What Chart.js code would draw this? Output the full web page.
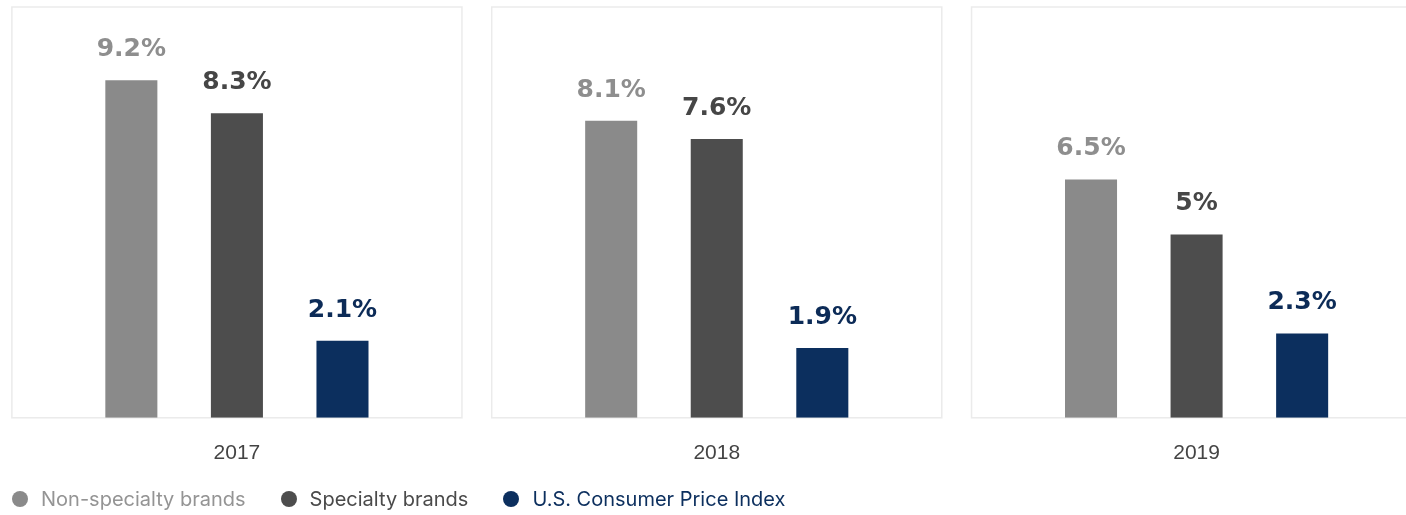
<!DOCTYPE html>
<html>
<head>
<meta charset="utf-8">
<script src="https://cdn.jsdelivr.net/npm/chart.js@4/dist/chart.umd.min.js"></script>
<style>
  html, body { margin: 0; padding: 0; background: #fff; overflow: hidden; }
  body { width: 1406px; height: 515px; position: relative; }
  #wrap { position: absolute; left: -10px; top: 0; width: 1460px; height: 515px; }
  #legend { position: absolute; left: 12px; top: 487px; display: flex; align-items: center;
    font-family: Inter, "Noto Sans", sans-serif; font-size: 20px; line-height: 24px; }
  #legend .item { display: flex; align-items: center; margin-right: 35px; }
  #legend .dot { width: 16px; height: 16px; border-radius: 50%; margin-right: 13px; }
</style>
</head>
<body>
<div id="wrap"><canvas id="myChart"></canvas></div>
<div id="legend"></div>
<script>
// dati
const anni = ["2017", "2018", "2019"];
const nonSpecialty = [9.2, 8.1, 6.5];
const specialty = [8.3, 7.6, 5];
const cpi = [2.1, 1.9, 2.3];

const nomiSerie = ["Non-specialty brands", "Specialty brands", "U.S. Consumer Price Index"];
const coloriBarre = ["#8a8a8a", "#4d4d4d", "#0c2f5e"];
const coloriTesto = ["#8e8e8e", "#464646", "#0c2b57"];
const coloriLegenda = ["#949494", "#4a4a4a", "#0c2f5e"];

// riquadro grigio attorno a ogni anno
const riquadri = {
  id: "riquadri",
  beforeDatasetsDraw(chart) {
    const { ctx, chartArea, scales } = chart;
    const x = scales.x;
    const larghezza = (x.width / anni.length) * 0.938;
    ctx.save();
    ctx.strokeStyle = "#ebebeb";
    ctx.lineWidth = 1.5;
    anni.forEach((a, i) => {
      const cx = x.getPixelForValue(i);
      ctx.strokeRect(cx - larghezza / 2, chartArea.top, larghezza, chartArea.bottom - chartArea.top);
    });
    ctx.restore();
  },
};

// etichette dei valori sopra le barre
const etichette = {
  id: "etichette",
  afterDatasetsDraw(chart) {
    const { ctx } = chart;
    ctx.save();
    ctx.font = "bold 25px 'DejaVu Sans'";
    ctx.textAlign = "center";
    ctx.textBaseline = "alphabetic";
    chart.data.datasets.forEach((ds, d) => {
      chart.getDatasetMeta(d).data.forEach((bar, i) => {
        ctx.fillStyle = coloriTesto[d];
        ctx.fillText(`${ds.data[i]}%`, bar.x, bar.y - 24);
      });
    });
    ctx.restore();
  },
};

const data = {
  labels: anni,
  datasets: [nonSpecialty, specialty, cpi].map((valori, i) => ({
    label: nomiSerie[i],
    data: valori,
    backgroundColor: coloriBarre[i],
    borderWidth: 0,
    categoryPercentage: 0.66,
    barPercentage: 0.493,
  })),
};

const config = {
  type: "bar",
  data: data,
  options: {
    responsive: true,
    maintainAspectRatio: false,
    animation: false,
    layout: { padding: { left: 7, right: 13.5, top: 7, bottom: 26 } },
    scales: {
      x: {
        grid: { display: false, drawTicks: false },
        border: { display: false },
        ticks: {
          color: "#444",
          padding: 23,
          font: { family: "'Liberation Sans', Arial, sans-serif", size: 21 },
        },
      },
      y: { display: false, min: 0, max: 11.2 },
    },
    plugins: {
      legend: { display: false },
      tooltip: { enabled: false },
    },
  },
  plugins: [riquadri, etichette],
};

const myChart = new Chart(document.getElementById("myChart"), config);

// legenda in fondo
const legenda = document.getElementById("legend");
nomiSerie.forEach((nome, i) => {
  const item = document.createElement("div");
  item.className = "item";
  const dot = document.createElement("span");
  dot.className = "dot";
  dot.style.background = coloriBarre[i];
  const testo = document.createElement("span");
  testo.textContent = nome;
  testo.style.color = coloriLegenda[i];
  item.appendChild(dot);
  item.appendChild(testo);
  legenda.appendChild(item);
});
</script>
</body>
</html>
